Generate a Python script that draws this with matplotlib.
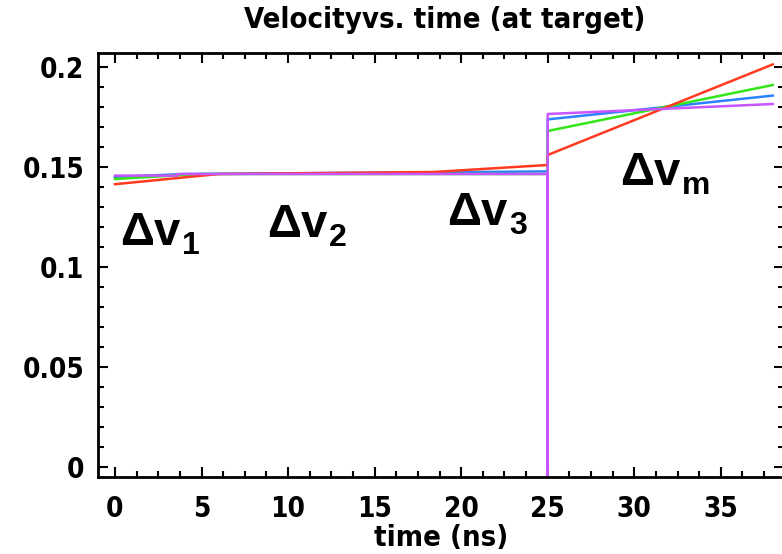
import matplotlib
matplotlib.use("Agg")
import matplotlib.pyplot as plt
from matplotlib.ticker import MultipleLocator

# velocity traces (time in ns, velocity)
t_red = [0, 6, 18.4, 25, 25, 38]
v_red = [0.1414, 0.1465, 0.1475, 0.151, 0.156, 0.2013]

t_green = [0, 5, 25, 25, 38]
v_green = [0.1440, 0.1465, 0.1465, 0.168, 0.191]

t_blue = [0, 4, 21, 25, 25, 38]
v_blue = [0.1450, 0.1465, 0.1475, 0.1478, 0.1738, 0.1857]

t_mag = [0, 3.6, 3.6, 25, 25, 25, 38]
v_mag = [0.1457, 0.1457, 0.1465, 0.1465, -0.01, 0.1765, 0.1815]

labels = ['\u0394v', '\u0394v', '\u0394v', '\u0394v']
subs = ['1', '2', '3', 'm']
label_t = [0.3, 8.8, 19.2, 29.2]
label_v = [0.111, 0.115, 0.121, 0.141]

cond = dict(family='DejaVu Sans', stretch='condensed', weight='bold')

fig = plt.figure(figsize=(7.82, 5.54), dpi=100)
ax = fig.add_axes([98/782, 1-477/554, 686/782, 424/554])

ax.plot(t_blue, v_blue, color='#2a82ff', lw=1.8)
ax.plot(t_green, v_green, color='#33e61a', lw=1.8)
ax.plot(t_red, v_red, color='#ff3a1f', lw=1.8)
ax.plot(t_mag, v_mag, color='#c855ff', lw=1.8)

for s, sub, x, y in zip(labels, subs, label_t, label_v):
    txt = ax.text(x, y, s, fontsize=34, family='Liberation Sans', weight='bold',
                  va='baseline', ha='left')
    ax.annotate(sub, xy=(1, 0), xycoords=txt, xytext=(1, -4), textcoords='offset points',
                fontsize=23, family='Liberation Sans', weight='bold', va='bottom', ha='left')

ax.set_xlim(-0.98, 38.65)
ax.set_ylim(-0.005, 0.207)

ax.xaxis.set_major_locator(MultipleLocator(5))
ax.xaxis.set_minor_locator(MultipleLocator(1.25))
ax.yaxis.set_major_locator(MultipleLocator(0.05))
ax.yaxis.set_minor_locator(MultipleLocator(0.01))
ax.tick_params(which='both', direction='in', top=True, right=True, width=1.5)
ax.tick_params(which='major', length=7)
ax.tick_params(which='minor', length=4)
for sp in ax.spines.values():
    sp.set_linewidth(2)

tick_font = dict(cond, size=20)
ax.set_xticks([0, 5, 10, 15, 20, 25, 30, 35])
ax.set_xticklabels(['0', '5', '10', '15', '20', '25', '30', '35'], fontdict=tick_font)
ax.set_yticks([0, 0.05, 0.1, 0.15, 0.2])
ax.set_yticklabels(['0', '0.05', '0.1', '0.15', '0.2'], fontdict=tick_font)
ax.tick_params(axis='x', pad=13)
ax.tick_params(axis='y', pad=10)

ax.set_xlabel('time (ns)', fontdict=dict(cond, size=21), labelpad=1)
fig.text(445/782, 1-20/554, 'Velocityvs. time (at target)', ha='center', va='center',
         fontdict=dict(cond, size=21))

fig.savefig('out.png', dpi=100)
